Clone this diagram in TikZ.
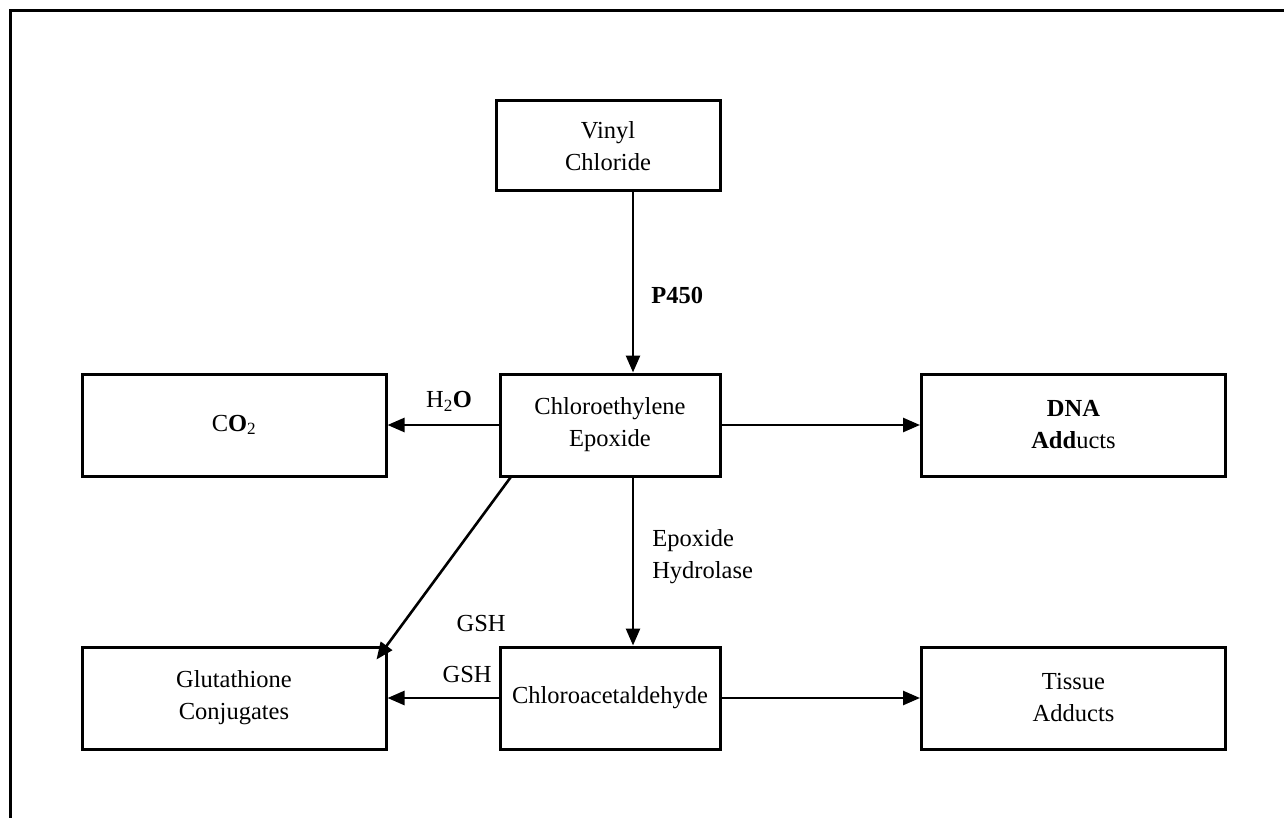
\documentclass[tikz,border=0pt]{standalone}
\usepackage{fontspec}
\setmainfont{Liberation Serif}
\usetikzlibrary{arrows.meta,calc}
\tikzset{
  box/.style={draw, line width=3pt, minimum width=#1, minimum height=102pt, align=center, inner sep=0pt, font=\fontsize{24.5}{32}\selectfont},
  box/.default=304pt,
  arr/.style={line width=2.6pt, -{Triangle[length=17pt,width=14pt]}},
  lbl/.style={font=\fontsize{24.5}{32}\selectfont, inner sep=0pt},
  frame/.style={line width=3pt}
}
\begin{document}
\begin{tikzpicture}[x=1pt,y=-1pt]
\useasboundingbox (0,0) rectangle (1284,818);
\coordinate (f1) at (1284,11);
\coordinate (f2) at (10,11);
\coordinate (f3) at (10,818);
\draw[frame] (f1) -- (f2) -- (f3);
\node[box=224pt, minimum height=90pt] (vc) at (608,146) {Vinyl\\Chloride};
\node[box=220pt] (ce) at (610,425) {Chloroethylene\\Epoxide};
\node[box] (co) at (234,425) {C\textbf{O}\textsubscript{2}};
\node[box] (dna) at (1073.5,425) {\textbf{DNA}\\\textbf{Add}ucts};
\node[box] (gc) at (234,698) {Glutathione\\Conjugates};
\node[box=220pt] (ca) at (610,698) {Chloroacetaldehyde};
\node[box] (ta) at (1073.5,698) {Tissue\\Adducts};
\coordinate (axis) at (633,0);
\draw[arr] (vc.south -| axis) -- (ce.north -| axis) node[lbl, pos=0.57, right=17pt] (p450) {\textbf{P450}};
\draw[arr] (ce.west) -- (co.east) node[lbl, midway, above=12pt, xshift=6pt] (h2o) {H\textsubscript{2}\textbf{O}};
\draw[arr] (ce.east) -- (dna.west);
\draw[arr] (ce.south -| axis) -- (ca.north -| axis) node[lbl, pos=0.3, right=18pt, align=left, anchor=north west] (eh) {Epoxide\\Hydrolase};
\draw[arr] ($(ce.south west)+(12,0)$) -- ($(gc.north east)+(-11,14)$) node[lbl, pos=0.8, right=52pt] (gsh1) {GSH};
\draw[arr] (ca.west) -- (gc.east) node[lbl, pos=0.05, above=14pt, anchor=south east] (gsh2) {GSH};
\draw[arr] (ca.east) -- (ta.west);
\end{tikzpicture}
\end{document}
